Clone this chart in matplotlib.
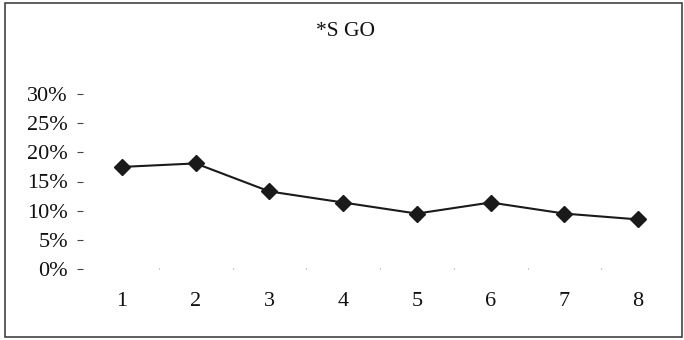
import matplotlib
matplotlib.use("Agg")
import matplotlib.pyplot as plt
from matplotlib.patches import Rectangle
from matplotlib.ticker import FuncFormatter

categories = [1, 2, 3, 4, 5, 6, 7, 8]
values = [0.175, 0.181, 0.133, 0.114, 0.095, 0.114, 0.095, 0.085]
yticks = [0.0, 0.05, 0.10, 0.15, 0.20, 0.25, 0.30]
title = "*S GO"

plt.rcParams['font.family'] = ['Liberation Serif', 'DejaVu Serif']

fig = plt.figure(figsize=(6.84, 3.40), dpi=100)
fig.patches.append(Rectangle((5/684, 3/340), 677/684, 334/340, transform=fig.transFigure,
                             fill=False, edgecolor='#333333', linewidth=1.1))

ax = fig.add_axes([85/684, (340-269)/340, 590/684, 175/340])
ax.plot(categories, values, color='#1a1a1a', linewidth=1.5, marker='D',
        markersize=8, markerfacecolor='#1a1a1a', markeredgecolor='#1a1a1a')

ax.set_xlim(0.5, 8.5)
ax.set_ylim(0, 0.30)
ax.set_yticks(yticks)
ax.yaxis.set_major_formatter(FuncFormatter(lambda v, p: f"{round(v*100)}%"))
ax.set_xticks(categories)
ax.set_xticks([1.5, 2.5, 3.5, 4.5, 5.5, 6.5, 7.5], minor=True)

for s in ax.spines.values():
    s.set_visible(False)
ax.spines['left'].set_position(('outward', 1.5))

ax.tick_params(axis='y', which='major', direction='out', length=4.3, width=0.8,
               color='#444444', pad=6.5, labelsize=16, labelcolor='#111111')
ax.tick_params(axis='x', which='major', length=0, pad=16.5, labelsize=16, labelcolor='#111111')
ax.tick_params(axis='x', which='minor', direction='in', length=1, width=0.8, color='#999999')

fig.text(345/684, (340-31)/340, title, ha='center', va='center', fontsize=15.5, color='#111111')

fig.savefig("out.png", dpi=100)
